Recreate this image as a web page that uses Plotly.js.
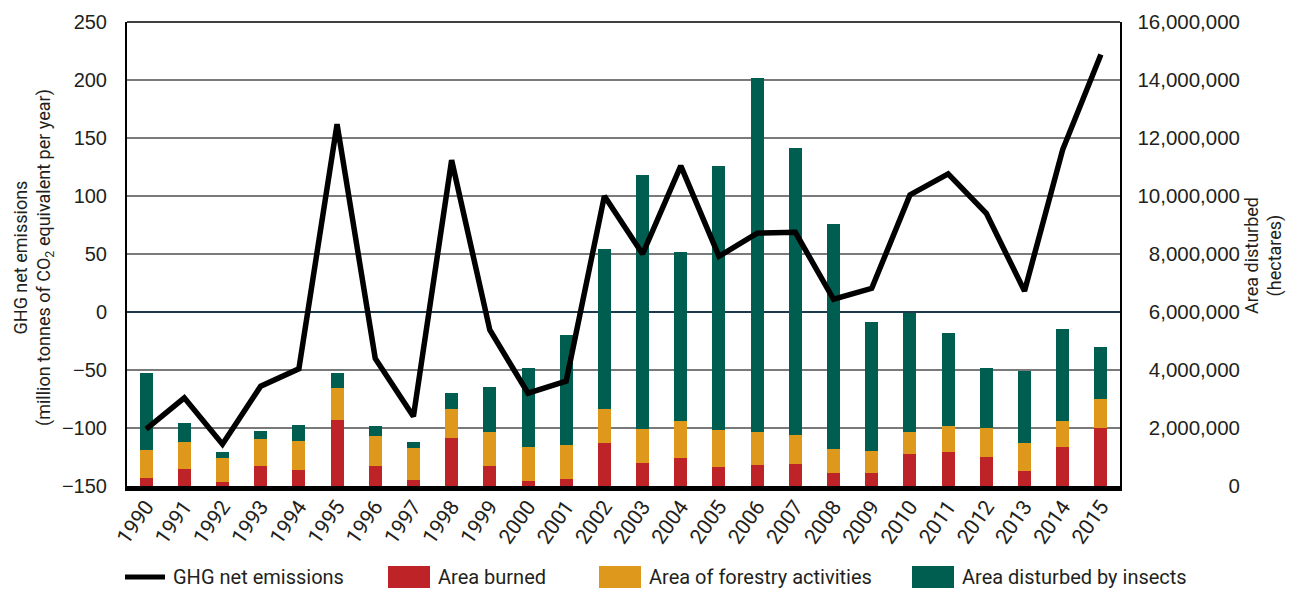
<!DOCTYPE html>
<html><head><meta charset="utf-8">
<script src="https://cdn.plot.ly/plotly-3.0.1.min.js"></script>
<style>html,body{margin:0;padding:0;background:#fff}</style>
</head><body><div id="chart" style="width:1298px;height:589px"></div>
<script>
const years = ['1990','1991','1992','1993','1994','1995','1996','1997','1998','1999','2000','2001','2002','2003','2004','2005','2006','2007','2008','2009','2010','2011','2012','2013','2014','2015'];
const ghgEmissions = [-101, -74, -114, -64, -49, 162, -40, -90, 131, -15.5, -70, -59.5, 100, 50, 126, 48, 68, 68.7, 11, 20.4, 101, 119, 85, 18, 140, 222];
const areaBurned = [280000, 590000, 140000, 690000, 550000, 2280000, 690000, 210000, 1660000, 690000, 170000, 240000, 1490000, 800000, 970000, 660000, 730000, 760000, 450000, 450000, 1110000, 1180000, 1000000, 520000, 1350000, 2010000];
const areaForestry = [970000, 930000, 830000, 940000, 1010000, 1110000, 1040000, 1100000, 1000000, 1180000, 1180000, 1180000, 1170000, 1170000, 1280000, 1280000, 1140000, 1000000, 830000, 760000, 760000, 900000, 1010000, 970000, 900000, 1000000];
const areaInsects = [2660000, 660000, 210000, 270000, 550000, 490000, 350000, 210000, 560000, 1560000, 2710000, 3770000, 5510000, 8760000, 5810000, 9100000, 12210000, 9900000, 7750000, 4460000, 4080000, 3180000, 2070000, 2490000, 3180000, 1800000];
const leftTicks = [-150, -100, -50, 0, 50, 100, 150, 200, 250];
const rightTicks = [0, 2000000, 4000000, 6000000, 8000000, 10000000, 12000000, 14000000, 16000000];
const seriesNames = ['GHG net emissions', 'Area burned', 'Area of forestry activities', 'Area disturbed by insects'];
const colLine = '#000000', colBurned = '#BE2327', colForestry = '#DE981C', colInsects = '#005E50';

const narrow = "Roboto, 'Liberation Sans', Arial, sans-serif";
const regular = "'Liberation Sans', Arial, sans-serif";
const txt = '#231F20';

const traces = [
  {type:'bar', name:seriesNames[1], x:years, y:areaBurned, marker:{color:colBurned}, yaxis:'y'},
  {type:'bar', name:seriesNames[2], x:years, y:areaForestry, marker:{color:colForestry}, yaxis:'y'},
  {type:'bar', name:seriesNames[3], x:years, y:areaInsects, marker:{color:colInsects}, yaxis:'y'},
  {type:'scatter', mode:'lines', name:seriesNames[0], x:years, y:ghgEmissions, line:{color:colLine, width:5.5}, yaxis:'y2'}
];

// plot area: x 127..1120 px ; paper 127..1240
const L = 127, R = 1240, W = R - L;
const px = v => (v - L) / W;
const T = 22, B = 486, H = B - T;
const py = v => (B - v) / H;

const legY = py(577);
const shapes = [
  {type:'line', xref:'x domain', yref:'y domain', x0:0, x1:1, y0:1, y1:1, line:{color:'#000', width:1.5}},
  {type:'line', xref:'paper', yref:'paper', x0:px(125), x1:px(165), y0:legY, y1:legY, line:{color:colLine, width:5}},
  {type:'rect', xref:'paper', yref:'paper', x0:px(388), x1:px(430), y0:py(566), y1:py(588), fillcolor:colBurned, line:{width:0}},
  {type:'rect', xref:'paper', yref:'paper', x0:px(599), x1:px(641), y0:py(566), y1:py(588), fillcolor:colForestry, line:{width:0}},
  {type:'rect', xref:'paper', yref:'paper', x0:px(912), x1:px(954), y0:py(566), y1:py(588), fillcolor:colInsects, line:{width:0}}
];
const legFont = {family:narrow, size:20, color:txt};
const annotations = [
  {xref:'paper', yref:'paper', x:px(171), y:legY, xanchor:'left', yanchor:'middle', text:seriesNames[0], showarrow:false, font:legFont},
  {xref:'paper', yref:'paper', x:px(436), y:legY, xanchor:'left', yanchor:'middle', text:seriesNames[1], showarrow:false, font:legFont},
  {xref:'paper', yref:'paper', x:px(647), y:legY, xanchor:'left', yanchor:'middle', text:seriesNames[2], showarrow:false, font:legFont},
  {xref:'paper', yref:'paper', x:px(960), y:legY, xanchor:'left', yanchor:'middle', text:seriesNames[3], showarrow:false, font:legFont},
  {xref:'paper', yref:'paper', x:px(1263), y:py(256), xanchor:'center', yanchor:'middle', textangle:-90, showarrow:false,
   text:'Area disturbed<br>(hectares)', font:{family:narrow, size:18, color:txt}},
  {xref:'paper', yref:'paper', x:px(33), y:py(258), xanchor:'center', yanchor:'middle', textangle:-90, showarrow:false,
   text:'GHG net emissions<br>(million tonnes of CO<sub>2</sub> equivalent per year)', font:{family:narrow, size:18, color:txt}}
];

const layout = {
  width:1298, height:589,
  margin:{l:L, r:1298-R, t:T, b:589-B, pad:0},
  paper_bgcolor:'#fff', plot_bgcolor:'#fff',
  showlegend:false,
  barmode:'stack', bargap:0.66,
  xaxis:{type:'category', domain:[0, (1120-L)/W], range:[-0.5, 25.5], showline:true, linecolor:'#000', linewidth:5,
         ticks:'', showgrid:false, tickangle:-55, ticklabelstandoff:-5, tickfont:{family:narrow, size:21, color:txt}, fixedrange:true, automargin:false},
  yaxis:{range:[0, 16000000], anchor:'free', position:1, side:'left', tickvals:rightTicks, tickformat:',d',
         showgrid:false, zeroline:false, showline:false, ticks:'', tickfont:{family:regular, size:20.5, color:txt}, automargin:false},
  yaxis2:{overlaying:'y', anchor:'x', side:'left', range:[-150, 250], tickvals:leftTicks, showline:true, linecolor:'#000', linewidth:2,
          mirror:true, showgrid:true, gridcolor:'#7a7a7a', gridwidth:1.5, zeroline:true, zerolinecolor:'#1B3A4B', zerolinewidth:2.5,
          ticks:'', ticklabelstandoff:14, tickfont:{family:regular, size:20, color:txt}, automargin:false},
  shapes:shapes,
  annotations:annotations
};

Plotly.newPlot('chart', traces, layout, {displayModeBar:false, staticPlot:true});
</script></body></html>
